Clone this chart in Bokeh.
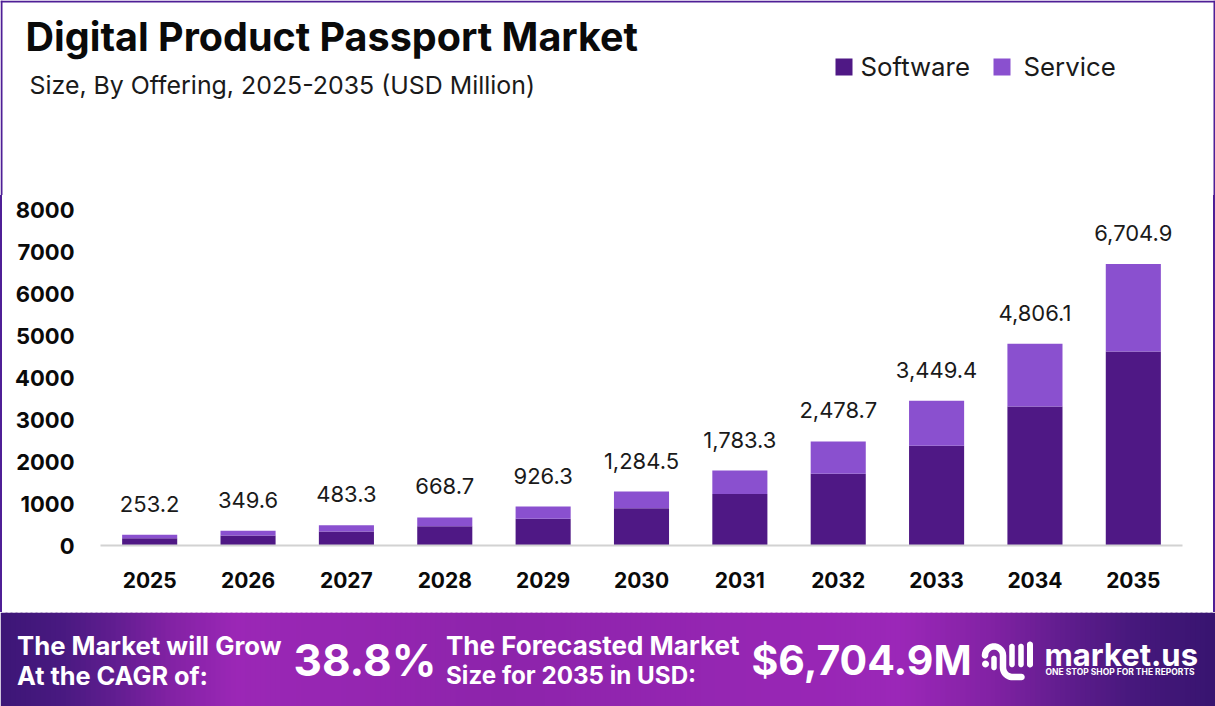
import numpy as np
from bokeh.core.properties import value
from bokeh.embed import file_html
from bokeh.layouts import column, row
from bokeh.resources import INLINE
from bokeh.plotting import figure
from bokeh.models import (BoxAnnotation, ColumnDataSource, FactorRange, FixedTicker, Label,
                          PolyAnnotation, Range1d, Spacer)

years = ["2025", "2026", "2027", "2028", "2029", "2030", "2031", "2032", "2033", "2034", "2035"]
software = [174, 241, 333, 461, 638, 885, 1229, 1708, 2377, 3312, 4620]
service = [79.2, 108.6, 150.3, 207.7, 288.3, 399.5, 554.3, 770.7, 1072.4, 1494.1, 2084.9]
total_labels = ["253.2", "349.6", "483.3", "668.7", "926.3", "1,284.5", "1,783.3", "2,478.7",
                "3,449.4", "4,806.1", "6,704.9"]
y_ticks = [0, 1000, 2000, 3000, 4000, 5000, 6000, 7000, 8000]
series_names = ["Software", "Service"]
series_colors = ["#4f1885", "#8a50cf"]

FONT = "Inter"
BORDER = "#4f1f96"
WHITE = "#ffffff"


def panel(width, height, fill="white"):
    f = figure(width=width, height=height, output_backend="svg", toolbar_location=None,
               x_range=Range1d(0, width), y_range=Range1d(0, height), min_border=0,
               min_border_left=0, min_border_right=0, min_border_top=0, min_border_bottom=0,
               x_axis_location=None, y_axis_location=None, outline_line_color=None,
               background_fill_color=fill, border_fill_color=fill)
    f.grid.visible = False
    return f


def text(f, x, y, s, size, style="normal", color="#0a0a0a"):
    f.add_layout(Label(x=x, y=y, x_units="screen", y_units="screen", text=s,
                       text_font=FONT, text_font_size=size, text_font_style=style,
                       text_color=color, text_baseline="middle"))


def rect(f, left, right, top, bottom, color):
    f.add_layout(BoxAnnotation(left=left, right=right, top=top, bottom=bottom,
                               left_units="screen", right_units="screen", top_units="screen",
                               bottom_units="screen", fill_color=color, fill_alpha=1, line_color=None))


# ---------- header ----------
head = panel(1215, 195)


def hy(Y):
    return 195 - Y


rect(head, 0, 1215, 195, 193, BORDER)
rect(head, 0, 2, 195, 0, BORDER)
rect(head, 1213, 1215, 195, 0, BORDER)
text(head, 25, hy(36), "Digital Product Passport Market", "39.5px", "bold")
text(head, 29, hy(84), "Size, By Offering, 2025-2035 (USD Million)", "24.9px", "normal", "#1a1a1a")
for name, color, bx, tx in zip(series_names, series_colors, [835, 993], [860, 1023]):
    rect(head, bx, bx + 17, hy(58), hy(75), color)
    text(head, tx, hy(66), name, "25.8px", "normal", "#1a1a1a")

# ---------- chart ----------
p = figure(width=1211, height=417, output_backend="svg", toolbar_location=None,
           x_range=FactorRange(factors=years, range_padding=0), y_range=Range1d(0, 8000),
           min_border_left=98, min_border_right=31, min_border_top=14, min_border_bottom=67,
           outline_line_color=None, background_fill_color="white", border_fill_color="white")
p.grid.visible = False

src = ColumnDataSource(dict(year=years, Software=software, Service=service,
                            total=[a + b for a, b in zip(software, service)], text=total_labels))
p.vbar_stack(series_names, x="year", width=0.56, source=src, color=series_colors, line_color=None)
p.text(x="year", y="total", text="text", source=src, y_offset=-31, text_align="center",
       text_baseline="middle", text_font=value(FONT), text_font_size="22px", text_color="#1a1a1a")

ax = p.xaxis[0]
ax.axis_line_color = "#d2d2d2"
ax.axis_line_width = 2
ax.major_tick_line_color = None
ax.minor_tick_line_color = None
ax.major_label_standoff = 20
ax.major_label_text_font = FONT
ax.major_label_text_font_style = "bold"
ax.major_label_text_font_size = "21px"
ax.major_label_text_color = "#0a0a0a"

ay = p.yaxis[0]
ay.ticker = FixedTicker(ticks=y_ticks)
ay.axis_line_color = None
ay.major_tick_line_color = None
ay.minor_tick_line_color = None
ay.major_label_standoff = 20
ay.major_label_text_font = FONT
ay.major_label_text_font_style = "bold"
ay.major_label_text_font_size = "22px"
ay.major_label_text_color = "#0a0a0a"

# ---------- banner ----------
ban = panel(1215, 94)


def by(Y):
    return 706 - Y


stops_x = [0, 60, 110, 170, 235, 500, 900, 990, 1060, 1130, 1215]
stops_rgb = np.array([[0x3d, 0x16, 0x77], [0x48, 0x19, 0x80], [0x5f, 0x1d, 0x8f], [0x82, 0x22, 0xa4],
                      [0x9b, 0x27, 0xb6], [0x8d, 0x24, 0xab], [0x9b, 0x27, 0xb8], [0x82, 0x22, 0xa4],
                      [0x62, 0x1d, 0x8f], [0x47, 0x18, 0x7d], [0x38, 0x14, 0x70]], dtype=float)
edges = list(range(0, 1215, 5)) + [1215]
for a, b in zip(edges[:-1], edges[1:]):
    m = (a + b) / 2
    c = [int(round(np.interp(m, stops_x, stops_rgb[:, i]))) for i in range(3)]
    rect(ban, a, min(b + 2, 1215), 94, 0, "#%02x%02x%02x" % tuple(c))

text(ban, 16.5, by(644.5), "The Market will Grow", "25.7px", "bold", WHITE)
text(ban, 16.5, by(675), "At the CAGR of:", "25.3px", "bold", WHITE)
text(ban, 293, by(659), "38.8%", "44px", "bold", WHITE)
text(ban, 445.5, by(644.5), "The Forecasted Market", "26px", "bold", WHITE)
text(ban, 445.5, by(675), "Size for 2035 in USD:", "24.2px", "bold", WHITE)
text(ban, 751, by(659), "$6,704.9M", "41px", "bold", WHITE)
text(ban, 1044, by(654), "market.us", "31px", "bold", WHITE)
text(ban, 1045, by(671), "ONE STOP SHOP FOR THE REPORTS", "8.5px", "bold", WHITE)


def stroke(points, width=6.5):
    pts = np.array(points, dtype=float)
    d = np.gradient(pts, axis=0)
    n = np.stack([-d[:, 1], d[:, 0]], axis=1)
    n /= np.maximum(np.linalg.norm(n, axis=1, keepdims=True), 1e-6)
    r = width / 2
    a = np.linspace(0, np.pi, 10)

    def cap(c, nv):
        t = np.array([nv[1], -nv[0]])
        return [c + r * (np.cos(v) * nv + np.sin(v) * t) for v in a]

    poly = np.array(list(pts + n * r) + cap(pts[-1], n[-1]) + list((pts - n * r)[::-1]) + cap(pts[0], -n[0]))
    ban.add_layout(PolyAnnotation(xs=list(poly[:, 0]), ys=list(706 - poly[:, 1]), xs_units="screen",
                                  ys_units="screen", fill_color=WHITE, fill_alpha=1, line_color=None))


def arc(cx, cy, r, a0, a1, k=14):
    t = np.radians(np.linspace(a0, a1, k))
    return [(cx + r * np.cos(v), cy + r * np.sin(v)) for v in t]


stroke(arc(985, 663.5, 1.5, 0, 360, 16), 4)
stroke(arc(993.5, 655, 9, 180, 360) + [(1002.5, 662), (1002.5, 666)] + arc(1012, 667, 9.5, 180, 90) + [(1021, 676.5)])
stroke([(993.5, 658), (993.5, 667)], 5.5)
stroke([(1011.5, 646), (1011.5, 664)], 5.5)
stroke([(1020.5, 646), (1020.5, 664)], 5.5)
stroke([(1029.5, 644), (1029.5, 664)], 6)


def strip():
    return Spacer(width=2, height=417, styles={"background-color": BORDER})


row_chart = row(strip(), p, strip(), spacing=0)
page = column(row(head, spacing=0), row_chart, ban, spacing=0)
open("out.html", "w").write(file_html(page, INLINE))
